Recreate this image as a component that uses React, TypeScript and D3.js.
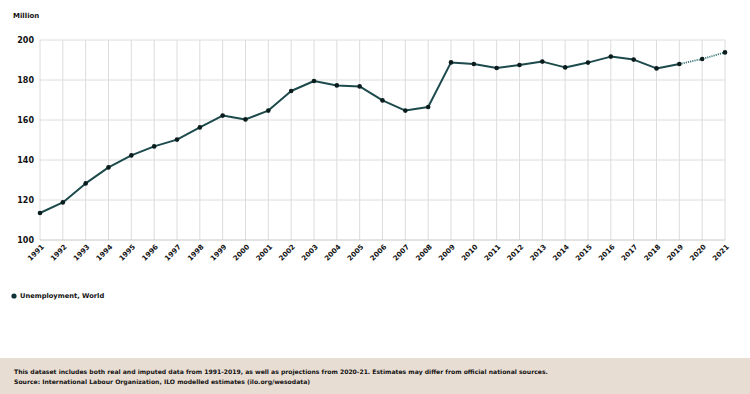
import { line, scaleLinear } from "d3";
import { useMemo } from "react";

const years = [
  1991, 1992, 1993, 1994, 1995, 1996, 1997, 1998, 1999, 2000, 2001, 2002, 2003, 2004, 2005, 2006,
  2007, 2008, 2009, 2010, 2011, 2012, 2013, 2014, 2015, 2016, 2017, 2018, 2019, 2020, 2021
];
const unemployment = [
  113.5, 118.8, 128.3, 136.3, 142.3, 146.8, 150.2, 156.3, 162.2, 160.3, 164.7, 174.5, 179.5, 177.3,
  176.8, 169.8, 164.7, 166.5, 188.8, 188.0, 186.0, 187.5, 189.2, 186.3, 188.7, 191.7, 190.2, 185.8,
  188.0, 190.5, 193.8
];
const lastActualYear = 2019;
const yTicks = [100, 120, 140, 160, 180, 200];
const unitLabel = "Million";
const seriesName = "Unemployment, World";
const footnotes = [
  "This dataset includes both real and imputed data from 1991-2019, as well as projections from 2020-21. Estimates may differ from official national sources.",
  "Source: International Labour Organization, ILO modelled estimates (ilo.org/wesodata)"
];

const width = 750;
const height = 394;
const plotLeft = 40;
const plotRight = 725;
const plotTop = 40;
const plotBottom = 240;
const font = "'DejaVu Sans', sans-serif";
const lineColor = "#1d4a4c";
const dotColor = "#0b1c1d";

type Point = { year: number; value: number };

function App() {
  const points: Point[] = useMemo(
    () => years.map((year, i) => ({ year, value: unemployment[i] })),
    []
  );

  const xScale = useMemo(
    () => scaleLinear().domain([years[0], years[years.length - 1]]).range([plotLeft, plotRight]),
    []
  );
  const yScale = useMemo(
    () => scaleLinear().domain([100, 200]).range([plotBottom, plotTop]),
    []
  );

  const builder = line<Point>()
    .x((d) => xScale(d.year))
    .y((d) => yScale(d.value));
  const actualPath = builder(points.filter((p) => p.year <= lastActualYear)) ?? "";
  const projectedPath = builder(points.filter((p) => p.year >= lastActualYear)) ?? "";

  return (
    <svg
      width={width}
      height={height}
      style={{ position: "absolute", left: 0, top: 0, background: "#fff" }}
      fontFamily={font}
    >
      <text x={13} y={18} fontSize={7} fontWeight="bold" fill="#111">
        {unitLabel}
      </text>
      {years.map((year) => (
        <line
          key={`v-${year}`}
          x1={xScale(year)}
          x2={xScale(year)}
          y1={plotTop}
          y2={plotBottom}
          stroke="#dcdcdc"
          strokeWidth={1}
        />
      ))}
      {yTicks.map((t) => (
        <g key={`h-${t}`}>
          <line
            x1={plotLeft}
            x2={plotRight}
            y1={yScale(t)}
            y2={yScale(t)}
            stroke={t === 100 ? "#c8c8c8" : "#dcdcdc"}
            strokeWidth={1}
          />
          <text
            x={plotLeft - 6}
            y={yScale(t)}
            textAnchor="end"
            dominantBaseline="middle"
            fontSize={8}
            fontWeight="bold"
            fill="#111"
          >
            {t}
          </text>
        </g>
      ))}
      {years.map((year) => (
        <text
          key={`x-${year}`}
          transform={`translate(${xScale(year) + 3}, ${plotBottom + 6}) rotate(-45)`}
          textAnchor="end"
          dominantBaseline="middle"
          fontSize={7}
          fontWeight="bold"
          fill="#111"
        >
          {year}
        </text>
      ))}
      <path d={actualPath} fill="none" stroke={lineColor} strokeWidth={2} strokeLinejoin="round" />
      <path
        d={projectedPath}
        fill="none"
        stroke="#3f7a7a"
        strokeWidth={1.8}
        strokeDasharray="1.2 1"
      />
      {points.map((p) => (
        <circle key={`p-${p.year}`} cx={xScale(p.year)} cy={yScale(p.value)} r={2.3} fill={dotColor} />
      ))}
      <circle cx={14} cy={296} r={2.6} fill="#0f3436" />
      <text x={20} y={296} dominantBaseline="middle" fontSize={6.7} fontWeight="bold" fill="#111">
        {seriesName}
      </text>
      <rect x={0} y={358} width={width} height={height - 358} fill="#e8ddd3" />
      {footnotes.map((note, i) => (
        <text key={i} x={14} y={374 + i * 10} fontSize={6.1} fontWeight="bold" fill="#111">
          {note}
        </text>
      ))}
    </svg>
  );
}

export default App;
